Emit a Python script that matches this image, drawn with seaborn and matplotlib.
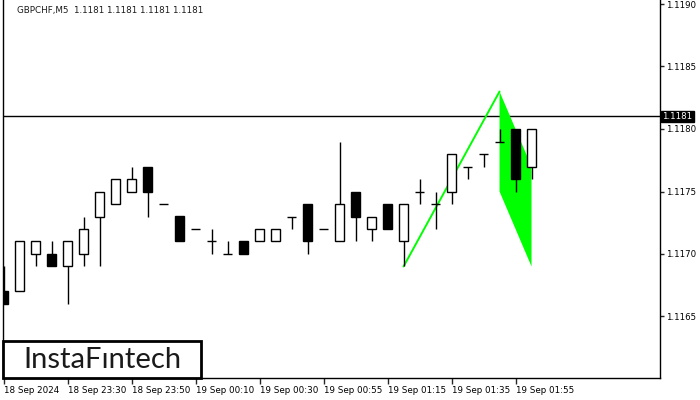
import numpy as np
import pandas as pd
import matplotlib
matplotlib.use("Agg")
import matplotlib.pyplot as plt
import seaborn as sns
from matplotlib.patches import Rectangle

# GBPCHF M5 candles
opens = [1.1167, 1.1167, 1.1170, 1.1170, 1.1169, 1.1170, 1.1173, 1.1174, 1.1175, 1.1177,
         1.1174, 1.1173, 1.1172, 1.1171, 1.1170, 1.1171, 1.1171, 1.1171, 1.1173, 1.1174,
         1.1172, 1.1171, 1.1175, 1.1172, 1.1174, 1.1171, 1.1175, 1.1174, 1.1175, 1.1177,
         1.1178, 1.1179, 1.1180, 1.1177]
highs = [1.1169, 1.1171, 1.1171, 1.1171, 1.1171, 1.1173, 1.1175, 1.1176, 1.1177, 1.1177,
         1.1174, 1.1173, 1.1172, 1.1172, 1.1171, 1.1171, 1.1172, 1.1172, 1.1173, 1.1174,
         1.1172, 1.1179, 1.1175, 1.1173, 1.1174, 1.1174, 1.1176, 1.1175, 1.1178, 1.1177,
         1.1178, 1.1180, 1.1180, 1.1180]
lows = [1.1166, 1.1167, 1.1169, 1.1169, 1.1166, 1.1169, 1.1169, 1.1174, 1.1175, 1.1173,
        1.1174, 1.1171, 1.1172, 1.1170, 1.1170, 1.1170, 1.1171, 1.1171, 1.1172, 1.1170,
        1.1172, 1.1171, 1.1171, 1.1171, 1.1172, 1.1169, 1.1174, 1.1172, 1.1174, 1.1176,
        1.1177, 1.1179, 1.1175, 1.1176]
closes = [1.1166, 1.1171, 1.1171, 1.1169, 1.1171, 1.1172, 1.1175, 1.1176, 1.1176, 1.1175,
          1.1174, 1.1171, 1.1172, 1.1171, 1.1170, 1.1170, 1.1172, 1.1172, 1.1173, 1.1171,
          1.1172, 1.1174, 1.1173, 1.1173, 1.1172, 1.1174, 1.1175, 1.1174, 1.1178, 1.1177,
          1.1178, 1.1179, 1.1176, 1.1180]

tick_bars = [0, 4, 8, 12, 16, 20, 24, 28, 32]
tick_labels = ["18 Sep 2024", "18 Sep 23:30", "18 Sep 23:50", "19 Sep 00:10", "19 Sep 00:30",
               "19 Sep 00:55", "19 Sep 01:15", "19 Sep 01:35", "19 Sep 01:55"]
price_ticks = [1.1165, 1.1170, 1.1175, 1.1180, 1.1185, 1.1190]

# bullish flag pattern: pole and flag corners
pole_x = [25, 31]
pole_y = [1.1169, 1.1183]
flag_x = [31, 33, 33, 31]
flag_y = [1.1183, 1.1177, 1.1169, 1.1175]
current_price = 1.1181

df = pd.DataFrame({"open": opens, "high": highs, "low": lows, "close": closes})
df["bar"] = np.arange(len(df))

sns.set_style("white")
plt.rcParams["font.family"] = ["DejaVu Sans"]

fig = plt.figure(figsize=(7, 4), dpi=100)
ax = fig.add_axes([3 / 700, 22 / 400, 656.5 / 700, 378 / 400])

# flag fill and pole
ax.fill(flag_x, flag_y, color="#00ff00", zorder=1, lw=0)
sns.lineplot(x=pole_x, y=pole_y, color="#00ff00", lw=1.4, ax=ax, zorder=1)

# current price line
ax.axhline(current_price, color="black", lw=1, zorder=0.5)

body_w = 0.6
for _, r in df.iterrows():
    x = r["bar"]
    ax.vlines(x, r["low"], r["high"], color="black", lw=1, zorder=2)
    lo, hi = min(r["open"], r["close"]), max(r["open"], r["close"])
    fc = "white" if r["close"] > r["open"] else "black"
    if hi - lo < 1e-9:
        ax.hlines(lo, x - body_w / 2, x + body_w / 2, color="black", lw=1, zorder=3)
    else:
        ax.add_patch(Rectangle((x - body_w / 2, lo), body_w, hi - lo, facecolor=fc,
                               edgecolor="black", lw=1, zorder=3))

ax.set_xlim(-0.04, 41.0)
ax.set_ylim(1.116008, 1.119032)

ax.yaxis.tick_right()
ax.set_yticks(price_ticks)
ax.set_yticklabels([f"{p:.4f}" for p in price_ticks], fontsize=6.2, color="black")
ax.set_xticks(tick_bars)
ax.set_xticklabels(tick_labels, fontsize=6.3, ha="left", color="black")
ax.tick_params(axis="x", direction="out", length=4, width=1, pad=2, bottom=True)
ax.tick_params(axis="y", direction="out", length=3, width=1, pad=2, right=True, left=False)
ax.set_xlabel("")
ax.set_ylabel("")
for s in ["left", "right", "bottom"]:
    ax.spines[s].set_visible(True)
    ax.spines[s].set_color("black")
    ax.spines[s].set_linewidth(1)
ax.spines["top"].set_visible(False)

# header
ax.text(0.022, 0.985, "GBPCHF,M5  1.1181 1.1181 1.1181 1.1181", transform=ax.transAxes,
        fontsize=6.3, va="top", ha="left", color="#1a1a1a")

# current price label
ax.text(1.004, current_price, "1.1181", transform=ax.get_yaxis_transform(),
        fontsize=6.2, va="center", ha="left", color="white",
        bbox=dict(boxstyle="square,pad=0.15", fc="black", ec="black"), clip_on=False)

# logo box
fig.patches.append(Rectangle((3 / 700, 22 / 400), 198 / 700, 37 / 400, transform=fig.transFigure,
                             facecolor="white", edgecolor="black", lw=2, zorder=5))
fig.text(102 / 700, 40 / 400, "InstaF\u0131ntech", fontsize=21, family="Lato",
         ha="center", va="center", color="#1a1a1a", zorder=6)

fig.savefig("out.png", dpi=100)
